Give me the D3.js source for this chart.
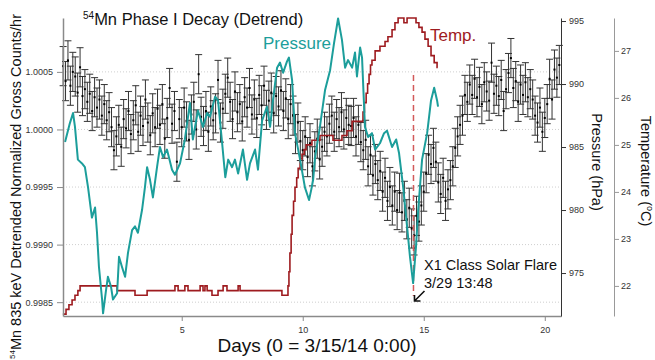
<!DOCTYPE html>
<html>
<head>
<meta charset="utf-8">
<script src="https://cdn.jsdelivr.net/npm/d3@7"></script>
<style>
  body { margin: 0; background: #fff; }
  text { font-family: "Liberation Sans", Arial, sans-serif; }
</style>
</head>
<body>
<svg id="chart"></svg>
<script>
/*
 54Mn detrended counts with pressure and temperature on two right axes.
*/
var width = 655;
var height = 360;
var plotLeft = 63, plotRight = 561, plotTop = 18, plotBottom = 316;
var tempAxisX = 614;

// detrended normalized counts, deviation from 1 in units of 1e-4, one point every 0.1 day from day 0.1
var countsDev = [
  5.5, 4.2, 6.0, 3.8, 5.0, 4.6, 3.2, 5.4, 2.9,
  3.5, 2.4, 3.1, 1.6, 2.8, 1.9, 2.6, 1.2, 2.2, 0.8,
  1.5, 0.2, -1.8, -0.6, 0.4, -1.5, 0.9, 0.1, 1.6, -0.4,
  0.8, 2.1, -0.2, 1.2, 0.3, 2.6, 0.6, -0.5, 1.4, 0.2,
  1.8, 0.4, 2.2, -0.8, 1.0, 3.6, 0.5, 1.6, -2.8, 0.9,
  0.2, 1.9, 0.7, -0.9, 1.3, 2.4, 0.0, 4.8, 1.1, 0.3,
  1.6, -0.2, 2.0, 0.8, 1.4, 4.3, 0.6, 1.8, 3.1, 4.5,
  2.4, 0.9, 3.3, 1.5, 2.2, 0.7, 2.8, 1.9, 3.6, 1.3,
  2.6, 1.0, 3.0, 2.1, 3.8, 1.7, 2.5, 3.2, 1.4, 2.9,
  2.0, 3.4, 1.6, 2.7, 0.9, 2.2, 1.2, -0.4, 0.6, -1.0,
  -1.8, -0.6, -2.4, -1.2, -3.2, -1.9, -0.8, -2.6, -1.5, -0.2,
  -0.6, 0.5, 1.2, -0.2, 0.9, 0.2, 1.5, 0.0, 1.0, 0.4,
  0.3, 1.0, -0.6, 0.4, -1.1, -1.8, -0.9, -3.2, -2.2, -4.0,
  -3.0, -4.4, -3.6, -5.4, -4.2, -6.2, -5.0, -6.6, -5.4, -7.0,
  -5.5, -7.2, -6.2, -7.8, -6.8, -8.6, -9.2, -7.5, -8.0, -6.6,
  -5.4, -3.8, -2.2, -3.0, -1.6, -2.8, -4.6, -5.6, -4.2, -6.2,
  -5.2, -4.4, -3.2, -1.6, -0.6, 0.4, 1.2, 3.0, 2.4, 3.9,
  3.0, 4.4, 2.8, 3.7, 2.2, 4.1, 3.3, 2.5, 5.8, 3.1,
  3.8, 2.9, 4.3, 1.6, 3.5, 4.9, 6.2, 3.6, 4.2, 2.4,
  3.9, 3.0, 4.1, 2.8, 3.5, 2.6, 1.2, 0.6, 1.9, -0.2,
  1.0, 2.2, 4.4, 2.6, 5.2, 4.5, 5.6
];
var countsErr = 1.7; // same units as countsDev
var countDays = d3.range(countsDev.length).map(function(i){ return 0.1 + i * 0.1; });

// pressure (hPa)
var pressureDays = [
  0.18, 0.38, 0.51, 0.59, 0.71, 0.88, 1.00, 1.13, 1.29, 1.42,
  1.50, 1.58, 1.71, 1.75, 1.87, 1.95, 2.08, 2.16, 2.33, 2.41,
  2.53, 2.66, 2.78, 2.95, 3.07, 3.19, 3.36, 3.48, 3.57, 3.69,
  3.81, 3.98, 4.10, 4.23, 4.39, 4.60, 4.72, 4.93, 5.13, 5.34,
  5.46, 5.67, 5.88, 6.05, 6.17, 6.38, 6.50, 6.67, 6.80, 6.92,
  7.08, 7.20, 7.33, 7.53, 7.70, 7.82, 8.03, 8.15, 8.32, 8.52,
  8.65, 8.77, 8.94, 9.06, 9.19, 9.35, 9.43, 9.56, 9.68, 9.89,
  10.09, 10.26, 10.35, 10.43, 10.51, 10.71, 10.92, 11.13, 11.29, 11.46,
  11.62, 11.75, 11.87, 12.04, 12.16, 12.24, 12.37, 12.45, 12.57, 12.70,
  12.86, 12.99, 13.19, 13.36, 13.48, 13.69, 13.86, 13.98, 14.15, 14.31,
  14.43, 14.56, 14.68, 14.77, 14.93, 15.14, 15.30, 15.43, 15.55, 15.59
];
var pressureHpa = [
  985.4, 986.9, 987.7, 986.6, 984.0, 983.7, 983.4, 981.8, 979.4, 980.2,
  978.2, 975.5, 972.9, 971.8, 973.6, 974.7, 973.9, 972.9, 973.4, 976.3,
  975.5, 974.7, 976.6, 978.4, 978.7, 978.2, 980.0, 981.8, 983.4, 982.4,
  981.0, 983.4, 985.0, 984.2, 984.8, 983.2, 982.8, 983.7, 985.6, 988.5,
  985.6, 987.9, 986.6, 987.7, 987.4, 989.0, 988.7, 985.3, 982.6, 984.0,
  983.4, 984.0, 982.9, 984.8, 982.4, 983.7, 984.8, 983.2, 987.1, 988.2,
  986.6, 988.7, 991.3, 991.7, 990.9, 991.8, 992.1, 990.3, 986.1, 984.0,
  981.8, 980.8, 981.6, 982.4, 984.2, 986.6, 989.5, 991.1, 993.2, 995.2,
  993.5, 991.3, 991.9, 991.3, 992.5, 990.6, 992.9, 992.1, 986.6, 985.8,
  986.1, 984.8, 985.3, 986.1, 986.3, 985.0, 985.6, 984.5, 981.8, 978.7,
  976.3, 974.2, 977.1, 980.0, 984.0, 986.1, 988.7, 989.7, 988.7, 988.2
];

// temperature (°C), logged in steps
var tempDays = [
  0.09, 0.22, 0.34, 0.47, 0.59, 0.71, 0.80, 2.33, 3.07, 3.57,
  4.72, 4.85, 5.13, 5.26, 5.76, 5.88, 5.96, 6.05, 6.25, 6.50,
  6.71, 6.87, 7.33, 7.41, 9.14, 9.39, 9.43, 9.47, 9.52, 9.56,
  9.62, 9.68, 9.75, 9.81, 9.89, 9.97, 10.06, 10.14, 10.38, 10.71,
  11.25, 11.62, 11.83, 12.04, 12.49, 12.55, 12.62, 12.68, 12.74, 12.80,
  12.86, 12.99, 13.19, 13.40, 13.52, 13.69, 13.81, 13.94, 14.18, 14.31,
  14.68, 14.80, 14.93, 15.05, 15.18, 15.30, 15.43, 15.55, 15.58
];
var tempC = [
  21.4, 21.5, 21.6, 21.7, 21.8, 21.9, 22.0, 21.9, 21.8, 21.9,
  22.0, 21.9, 22.0, 21.9, 22.0, 21.9, 22.0, 21.9, 21.8, 21.9,
  22.0, 21.9, 22.0, 21.9, 21.8, 22.0, 22.3, 22.7, 23.1, 23.5,
  23.8, 24.1, 24.3, 24.5, 24.7, 24.8, 24.9, 25.0, 25.1, 25.2,
  25.1, 25.2, 25.3, 25.5, 25.7, 25.9, 26.1, 26.3, 26.5, 26.7,
  26.8, 27.0, 27.1, 27.2, 27.3, 27.45, 27.6, 27.7, 27.6, 27.7,
  27.6, 27.5, 27.4, 27.25, 27.1, 26.9, 26.75, 26.65, 26.65
];

var dayTicks = [5, 10, 15, 20];
var countTicks = [0.9985, 0.9990, 0.9995, 1.0000, 1.0005];
var pressureTicks = [975, 980, 985, 990, 995];
var tempTicks = [22, 23, 24, 25, 26, 27];
var flareDay = 14 + 13.8 / 24;   // 3/29 13:48

var teal = "#1c9e9b";
var darkRed = "#9e1b1f";

var svg = d3.select("#chart")
    .attr("width", width)
    .attr("height", height);
svg.append("rect").attr("width", width).attr("height", height).attr("fill", "#fff");

var x = d3.scaleLinear().domain([0.095, 20.67]).range([plotLeft, plotRight]);
var yCounts = d3.scaleLinear().domain([0.99838, 1.000968]).range([plotBottom, plotTop]);
var yPress = d3.scaleLinear().domain([971.59, 995.24]).range([plotBottom, plotTop]);
var yTemp = d3.scaleLinear().domain([21.36, 27.70]).range([plotBottom, plotTop]);

// dotted grid lines at the count ticks
svg.append("g").selectAll("line")
    .data(countTicks)
    .enter()
    .append("line")
    .attr("x1", plotLeft)
    .attr("x2", plotRight)
    .attr("y1", function(d){ return yCounts(d); })
    .attr("y2", function(d){ return yCounts(d); })
    .attr("stroke", "#cfcfcf")
    .attr("stroke-dasharray", "1,2");

// error bars
var pts = countDays.map(function(d, i){
    return { day: d, v: 1 + countsDev[i] * 1e-4, e: countsErr * 1e-4 };
});
svg.append("g")
    .selectAll("path")
    .data(pts)
    .enter()
    .append("path")
    .attr("d", function(d){
        var cx = x(d.day), y1 = yCounts(d.v + d.e), y2 = yCounts(d.v - d.e);
        return "M" + (cx - 3.5) + "," + y1 + "H" + (cx + 3.5) +
               "M" + cx + "," + y1 + "V" + y2 +
               "M" + (cx - 3.5) + "," + y2 + "H" + (cx + 3.5);
    })
    .attr("fill", "none")
    .attr("stroke", "#333")
    .attr("stroke-width", 1);

svg.append("g")
    .selectAll("rect")
    .data(pts)
    .enter()
    .append("rect")
    .attr("x", function(d){ return x(d.day) - 1; })
    .attr("y", function(d){ return yCounts(d.v) - 1; })
    .attr("width", 2)
    .attr("height", 2)
    .attr("fill", "#000");

// flare marker
svg.append("line")
    .attr("x1", x(flareDay)).attr("x2", x(flareDay))
    .attr("y1", 75).attr("y2", 296)
    .attr("stroke", "#d25a5a")
    .attr("stroke-width", 1.5)
    .attr("stroke-dasharray", "6,4");

// temperature
var tempLine = d3.line()
    .curve(d3.curveStepAfter)
    .x(function(i){ return x(tempDays[i]); })
    .y(function(i){ return yTemp(tempC[i]); });
svg.append("path")
    .attr("d", tempLine(d3.range(tempDays.length)))
    .attr("fill", "none")
    .attr("stroke", darkRed)
    .attr("stroke-width", 1.6);

// pressure
var pressLine = d3.line()
    .x(function(i){ return x(pressureDays[i]); })
    .y(function(i){ return yPress(pressureHpa[i]); });
svg.append("path")
    .attr("d", pressLine(d3.range(pressureDays.length)))
    .attr("fill", "none")
    .attr("stroke", teal)
    .attr("stroke-width", 2)
    .attr("stroke-linejoin", "round");

// axes
function styleAxis(g, lineColor, lineWidth) {
    g.attr("font-family", '"Liberation Sans", Arial, sans-serif');
    g.select(".domain").attr("stroke", lineColor).attr("stroke-width", lineWidth);
    g.selectAll(".tick line").attr("stroke", lineColor);
    g.selectAll(".tick text").attr("fill", "#333").style("font-size", "9px");
}

svg.append("g")
    .attr("transform", "translate(0," + plotBottom + ")")
    .call(d3.axisBottom(x).tickValues(dayTicks).tickSize(5).tickSizeOuter(0).tickPadding(6))
    .call(styleAxis, "#8a8a8a", 1.5);

svg.append("g")
    .attr("transform", "translate(" + plotLeft + ",0)")
    .call(d3.axisLeft(yCounts).tickValues(countTicks).tickFormat(d3.format(".4f"))
          .tickSize(6).tickSizeOuter(0).tickPadding(4))
    .call(styleAxis, "#8a8a8a", 1.5);

svg.append("g")
    .attr("transform", "translate(" + plotRight + ",0)")
    .call(d3.axisRight(yPress).tickValues(pressureTicks).tickFormat(d3.format("d"))
          .tickSize(5).tickSizeOuter(0).tickPadding(3))
    .call(styleAxis, "#333", 1);

svg.append("g")
    .attr("transform", "translate(" + tempAxisX + ",0)")
    .call(d3.axisRight(yTemp).tickValues(tempTicks).tickFormat(d3.format("d"))
          .tickSize(5).tickSizeOuter(0).tickPadding(2))
    .call(styleAxis, "#999", 1);

// titles
var title = svg.append("text").attr("x", 83).attr("y", 25).attr("fill", "#111");
title.append("tspan").text("54").style("font-size", "10px").attr("dy", -6);
title.append("tspan").text("Mn Phase I Decay (Detrend)").style("font-size", "16.5px").attr("dy", 6);

var yTitle = svg.append("text")
    .attr("transform", "translate(21,359) rotate(-90)")
    .attr("fill", "#111");
yTitle.append("tspan").text("54").style("font-size", "8px").attr("dy", -6);
yTitle.append("tspan").text("Mn 835 keV Detrended Normalized Gross Counts/hr")
    .style("font-size", "14.5px").attr("dy", 6);

svg.append("text")
    .attr("transform", "translate(592,162) rotate(90)")
    .attr("text-anchor", "middle")
    .style("font-size", "14.5px")
    .attr("fill", "#111")
    .text("Pressure (hPa)");

var tTitle = svg.append("text")
    .attr("transform", "translate(641,171) rotate(90)")
    .attr("text-anchor", "middle")
    .style("font-size", "14.5px")
    .attr("fill", "#111");
tTitle.append("tspan").text("Temperature (");
tTitle.append("tspan").text("o").style("font-size", "9px").attr("dy", -6);
tTitle.append("tspan").text("C)").attr("dy", 6);

svg.append("text")
    .attr("x", 317).attr("y", 352)
    .attr("text-anchor", "middle")
    .style("font-size", "19px")
    .attr("fill", "#111")
    .text("Days (0 = 3/15/14 0:00)");

// series labels
svg.append("text").attr("x", 263).attr("y", 49)
    .style("font-size", "17px").attr("fill", teal).text("Pressure");
svg.append("text").attr("x", 430).attr("y", 41)
    .style("font-size", "17px").attr("fill", darkRed).text("Temp.");

// flare annotation
svg.append("text").attr("x", 424).attr("y", 270)
    .style("font-size", "14.5px").attr("fill", "#111").text("X1 Class Solar Flare");
svg.append("text").attr("x", 424).attr("y", 288)
    .style("font-size", "14.5px").attr("fill", "#111").text("3/29 13:48");

var fx = x(flareDay);
svg.append("path")
    .attr("d", "M" + (fx + 11) + ",291 L" + (fx + 1) + ",301 M" + (fx + 1) + ",295 V301 H" + (fx + 7))
    .attr("fill", "none")
    .attr("stroke", "#111")
    .attr("stroke-width", 1.6);
</script>
</body>
</html>
